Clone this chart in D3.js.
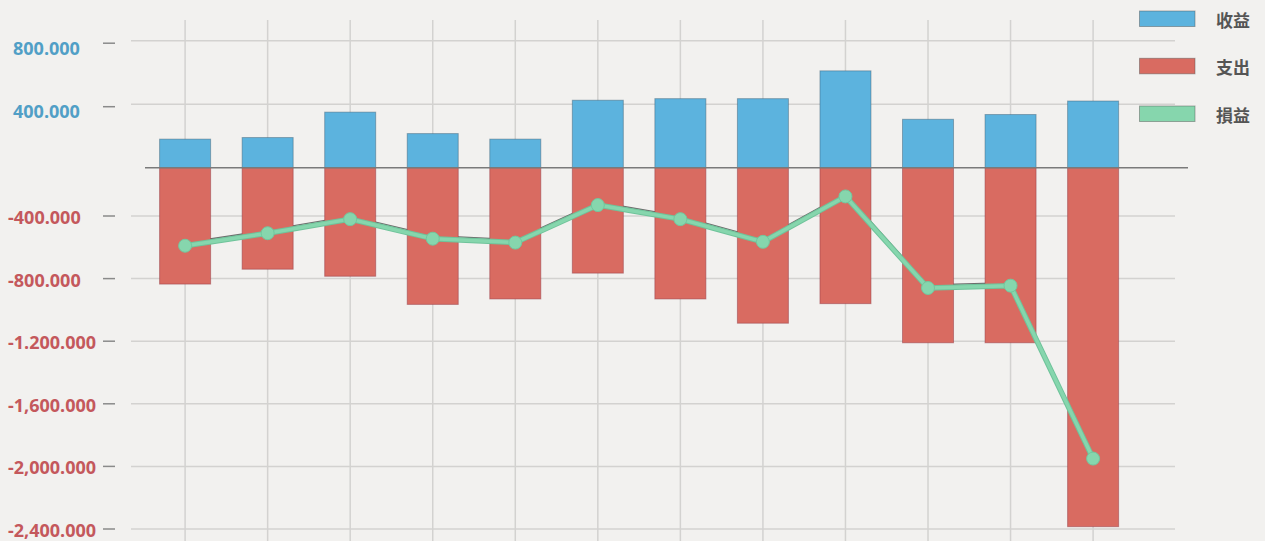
<!DOCTYPE html>
<html>
<head>
<meta charset="utf-8">
<script src="https://cdn.jsdelivr.net/npm/d3@7/dist/d3.min.js"></script>
<style>
  html, body { margin: 0; padding: 0; background: #f2f1ef; }
  svg { display: block; }
</style>
</head>
<body>
<svg id="chart" width="1265" height="541"></svg>
<script>
// ---- data ----
const categories = ["1月","2月","3月","4月","5月","6月","7月","8月","9月","10月","11月","12月"];
const revenue = [180000, 190000, 350000, 215000, 180000, 425000, 435000, 435000, 610000, 305000, 335000, 420000];
const expense = [-835000, -740000, -785000, -965000, -930000, -765000, -930000, -1085000, -960000, -1210000, -1210000, -2385000];
const profit  = [-590000, -510000, -420000, -545000, -570000, -330000, -420000, -565000, -275000, -860000, -845000, -1950000];
const posTicks = [800000, 400000];
const posTickLabels = ["800.000", "400.000"];
const negTicks = [-400000, -800000, -1200000, -1600000, -2000000, -2400000];
const negTickLabels = ["-400.000", "-800.000", "-1.200.000", "-1,600.000", "-2,000.000", "-2,400.000"];
const legendNames = ["收益", "支出", "損益"];

// ---- styles ----
const colors = { rev: "#5cb3de", exp: "#d96b61", prof: "#86d6ad" };
const legendColors = [colors.rev, colors.exp, colors.prof];

const svg = d3.select("#chart");

// ---- scales ----
const x = d3.scalePoint().domain(categories).range([185.1, 1093.1]).padding(0);
const step = x.step();
const barW = step * 0.618;
const yPos = d3.scaleLinear().domain([0, 800000]).range([167.7, 40.7]);
const yNeg = d3.scaleLinear().domain([0, -2400000]).range([153.4, 529]);

const gridColor = "#d3d2d0";

// vertical gridlines
svg.append("g").selectAll("line").data(categories).join("line")
  .attr("x1", d => x(d)).attr("x2", d => x(d))
  .attr("y1", 20).attr("y2", 541)
  .attr("stroke", gridColor).attr("stroke-width", 1.5);

// horizontal gridlines
const gx1 = 131, gx2 = 1175;
svg.append("g").selectAll("line").data(posTicks).join("line")
  .attr("x1", gx1).attr("x2", gx2)
  .attr("y1", d => yPos(d)).attr("y2", d => yPos(d))
  .attr("stroke", gridColor).attr("stroke-width", 1.5);
svg.append("g").selectAll("line").data(negTicks).join("line")
  .attr("x1", gx1).attr("x2", gx2)
  .attr("y1", d => yNeg(d)).attr("y2", d => yNeg(d))
  .attr("stroke", gridColor).attr("stroke-width", 1.5);

// tick marks
svg.append("g").selectAll("line").data(posTicks).join("line")
  .attr("x1", 103).attr("x2", 115)
  .attr("y1", d => yPos(d) + 2.5).attr("y2", d => yPos(d) + 2.5)
  .attr("stroke", "#8a8a8a").attr("stroke-width", 1.5);
svg.append("g").selectAll("line").data(negTicks).join("line")
  .attr("x1", 103).attr("x2", 115)
  .attr("y1", d => yNeg(d)).attr("y2", d => yNeg(d))
  .attr("stroke", "#8a8a8a").attr("stroke-width", 1.5);

// tick labels
const labelFont = "'Open Sans', 'DejaVu Sans', sans-serif";
svg.append("g").selectAll("text").data(posTicks).join("text")
  .attr("x", 13).attr("y", d => yPos(d) + 6.8)
  .attr("dominant-baseline", "central")
  .attr("font-family", labelFont).attr("font-weight", 700).attr("font-size", 18)
  .attr("fill", "#519fc6")
  .text((d, i) => posTickLabels[i]);
svg.append("g").selectAll("text").data(negTicks).join("text")
  .attr("x", 8).attr("y", d => yNeg(d) + 1)
  .attr("dominant-baseline", "central")
  .attr("font-family", labelFont).attr("font-weight", 700).attr("font-size", 18)
  .attr("fill", "#c4585c")
  .text((d, i) => negTickLabels[i]);

// shadow line behind bars
const lineGen = d3.line().x((d, i) => x(categories[i])).y(d => yNeg(d));
svg.append("path").datum(profit)
  .attr("d", lineGen)
  .attr("transform", "translate(0,-3)")
  .attr("fill", "none").attr("stroke", "#555").attr("stroke-width", 1.3).attr("opacity", 0.85);

// revenue bars
svg.append("g").selectAll("rect").data(revenue).join("rect")
  .attr("x", (d, i) => x(categories[i]) - barW / 2)
  .attr("width", barW)
  .attr("y", d => yPos(d))
  .attr("height", d => yPos(0) - yPos(d))
  .attr("fill", colors.rev)
  .attr("stroke", "rgba(60,90,110,0.45)").attr("stroke-width", 1);

// expense bars
svg.append("g").selectAll("rect").data(expense).join("rect")
  .attr("x", (d, i) => x(categories[i]) - barW / 2)
  .attr("width", barW)
  .attr("y", yPos(0))
  .attr("height", d => yNeg(d) - yPos(0))
  .attr("fill", colors.exp)
  .attr("stroke", "rgba(150,60,70,0.5)").attr("stroke-width", 1);

// zero line
svg.append("line")
  .attr("x1", 145).attr("x2", 1188)
  .attr("y1", yPos(0)).attr("y2", yPos(0))
  .attr("stroke", "#7a7a7a").attr("stroke-width", 1.6);

// profit line
svg.append("path").datum(profit)
  .attr("d", lineGen)
  .attr("fill", "none").attr("stroke", "#6fc39a").attr("stroke-width", 5.5)
  .attr("stroke-linejoin", "round");
svg.append("path").datum(profit)
  .attr("d", lineGen)
  .attr("fill", "none").attr("stroke", colors.prof).attr("stroke-width", 3.5)
  .attr("stroke-linejoin", "round");
svg.append("g").selectAll("circle").data(profit).join("circle")
  .attr("cx", (d, i) => x(categories[i]))
  .attr("cy", d => yNeg(d))
  .attr("r", 6.5)
  .attr("fill", colors.prof)
  .attr("stroke", "#72c79e").attr("stroke-width", 1);

// legend
const lg = svg.append("g");
const legendY = [11, 58.3, 106];
lg.selectAll("rect").data(legendNames).join("rect")
  .attr("x", 1139.5).attr("width", 55.5)
  .attr("y", (d, i) => legendY[i]).attr("height", 15.5)
  .attr("fill", (d, i) => legendColors[i])
  .attr("stroke", "rgba(80,80,80,0.45)").attr("stroke-width", 1);
lg.selectAll("text").data(legendNames).join("text")
  .attr("x", 1216).attr("y", (d, i) => legendY[i] + 8)
  .attr("dominant-baseline", "central")
  .attr("font-family", "'Noto Sans CJK TC', 'Noto Sans CJK SC', sans-serif")
  .attr("font-weight", 700).attr("font-size", 17)
  .attr("fill", "#555")
  .text(d => d);
</script>
</body>
</html>
